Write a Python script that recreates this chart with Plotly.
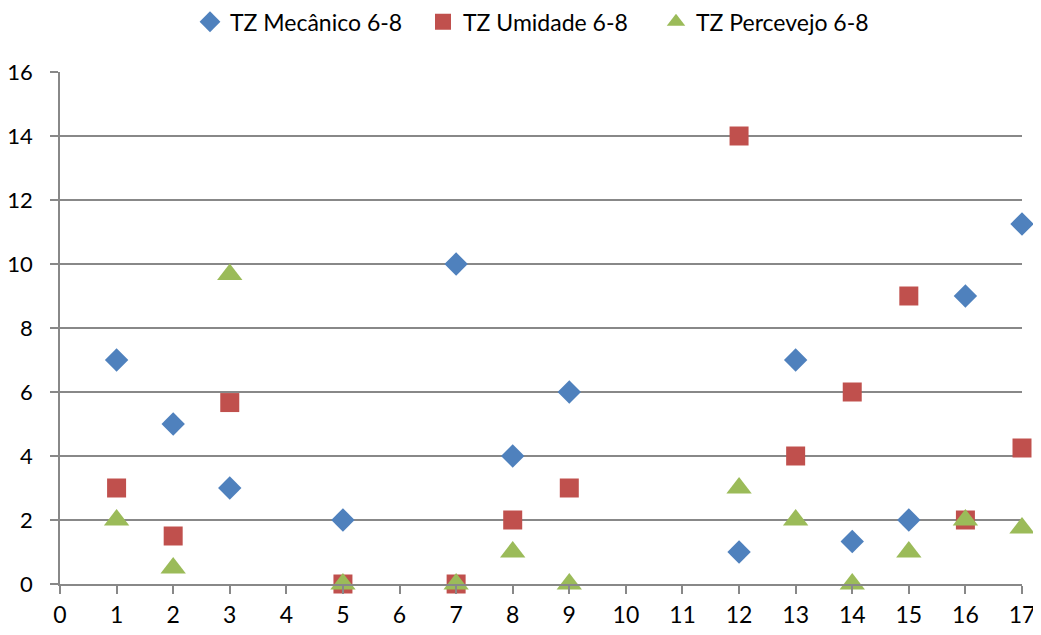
import plotly.graph_objects as go

x_vals = [1, 2, 3, 5, 7, 8, 9, 12, 13, 14, 15, 16, 17]
mecanico = [7, 5, 3, 2, 10, 4, 6, 1, 7, 1.33, 2, 9, 11.25]
umidade = [3, 1.5, 5.67, 0, 0, 2, 3, 14, 4, 6, 9, 2, 4.25]
percevejo = [2, 0.5, 9.67, 0, 0, 1, 0, 3, 2, 0, 1, 2, 1.75]
names = ["TZ Mecânico 6-8", "TZ Umidade 6-8", "TZ Percevejo 6-8"]
x_ticks = list(range(0, 18))
y_ticks = list(range(0, 17, 2))

fig = go.Figure()
fig.add_trace(go.Scatter(x=x_vals, y=mecanico, mode="markers", name=names[0],
                         cliponaxis=False,
                         marker=dict(symbol="diamond", size=18, color="#4F81BD",
                                     line=dict(width=0))))
fig.add_trace(go.Scatter(x=x_vals, y=umidade, mode="markers", name=names[1],
                         cliponaxis=False,
                         marker=dict(symbol="square", size=19, color="#C0504D",
                                     line=dict(width=0))))
fig.add_trace(go.Scatter(x=x_vals, y=percevejo, mode="markers", name=names[2],
                         cliponaxis=False,
                         marker=dict(symbol="triangle-up", size=22, color="#9BBB59",
                                     line=dict(width=0))))

fig.update_layout(
    width=1033, height=627,
    margin=dict(l=52, r=19, t=64, b=51),
    paper_bgcolor="white", plot_bgcolor="white",
    font=dict(family="Lato, Open Sans, sans-serif", size=23, color="black"),
    legend=dict(orientation="h", x=182 / 1033, xref="container", xanchor="left",
                y=0.978, yref="container", yanchor="middle",
                font=dict(size=23), itemwidth=30, tracegroupgap=0,
                entrywidth=188, entrywidthmode="pixels"),
    showlegend=True,
)
fig.update_xaxes(range=[0, 17], tickvals=x_ticks, showgrid=False, zeroline=False,
                 automargin=False,
                 showline=True, linecolor="#888888", linewidth=1.5,
                 ticks="outside", ticklen=8, tickcolor="#888888", tickwidth=1.5,
                 tickfont=dict(size=23), ticklabelstandoff=2)
fig.update_yaxes(range=[0, 16], tickvals=y_ticks, showgrid=True, gridcolor="#888888",
                 gridwidth=1.5, zeroline=False, automargin=False,
                 showline=True, linecolor="#888888", linewidth=1.5,
                 ticks="outside", ticklen=8, tickcolor="#888888", tickwidth=1.5,
                 tickfont=dict(size=22), ticklabelstandoff=13)
fig.write_html("out.html")
